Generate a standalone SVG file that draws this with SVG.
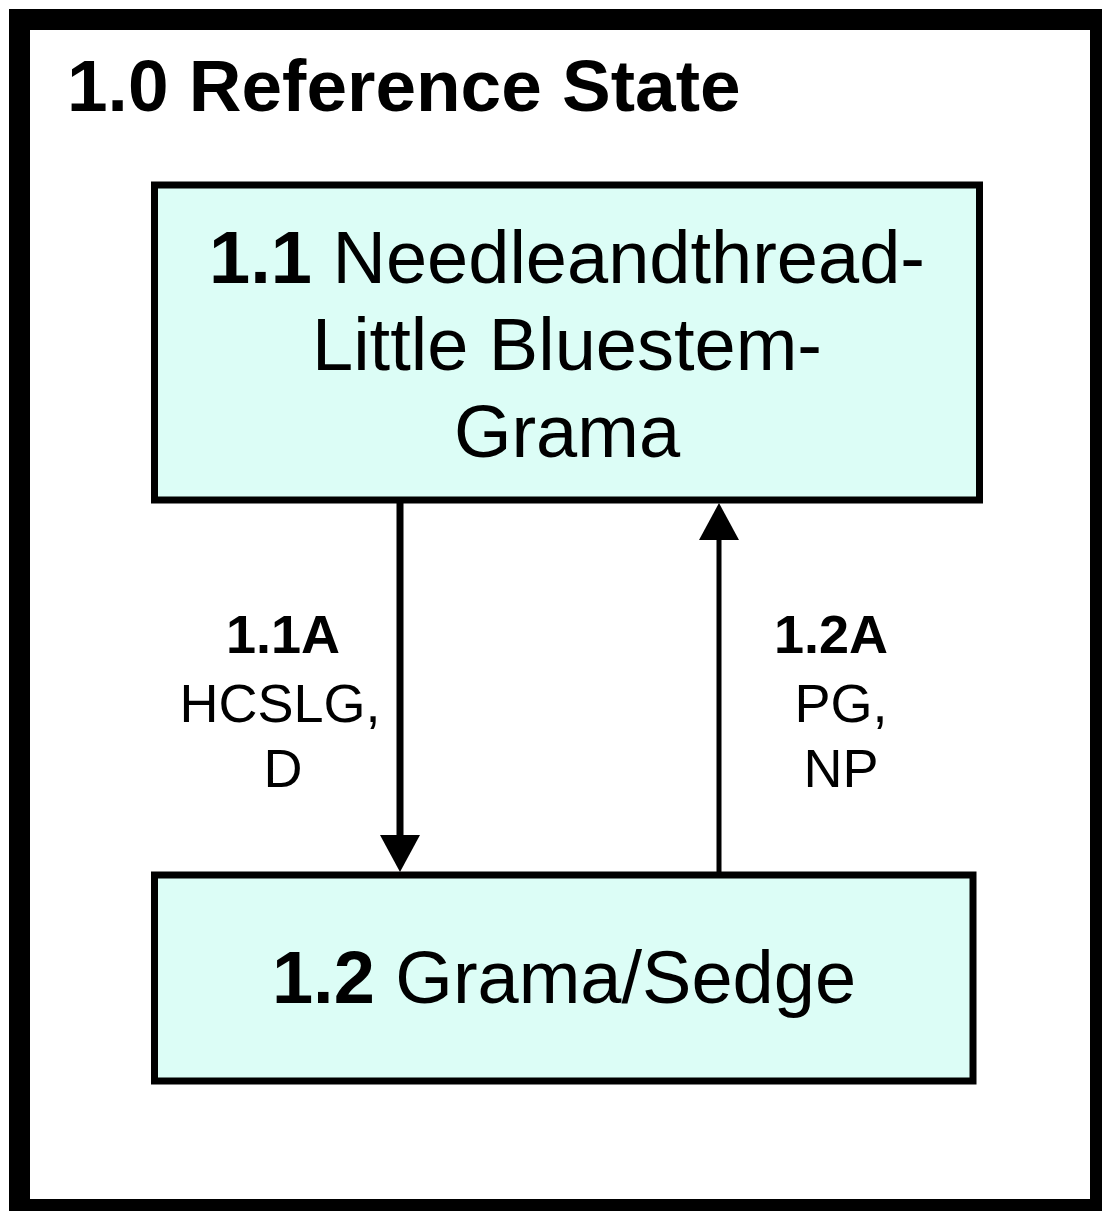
<svg xmlns="http://www.w3.org/2000/svg" width="1102" height="1211" viewBox="0 0 1102 1211">
<style>
  .frame { fill: #ffffff; stroke: #000000; stroke-width: 21; }
  .box { fill: #dcfdf6; stroke: #000000; stroke-width: 7; }
  text { font-family: "Liberation Sans", Arial, sans-serif; fill: #000000; }
  .title { font-size: 73px; font-weight: bold; }
  .node { font-size: 74px; text-anchor: middle; }
  .lbl { font-size: 54px; text-anchor: middle; }
  .b { font-weight: bold; }
  .conn { stroke: #000000; fill: none; }
</style>
<defs>
  <marker id="arrow" markerUnits="userSpaceOnUse" markerWidth="40" markerHeight="40" viewBox="0 0 37 40" refX="0" refY="20" orient="auto">
    <path d="M0,0 L37,20 L0,40 z" fill="#000000"/>
  </marker>
</defs>
<rect x="0" y="0" width="1102" height="1211" fill="#ffffff"/>
<rect class="frame" x="19.5" y="19.5" width="1081" height="1190"/>
<text class="title" x="67" y="111">1.0 Reference State</text>
<g id="node-1-1">
  <rect class="box" x="154.5" y="185" width="825" height="315"/>
  <text class="node" x="567" y="283"><tspan class="b">1.1</tspan> Needleandthread-</text>
  <text class="node" x="567" y="370">Little Bluestem-</text>
  <text class="node" x="567" y="457">Grama</text>
</g>
<g id="node-1-2">
  <rect class="box" x="154.5" y="875" width="818.5" height="206"/>
  <text class="node" x="564" y="1003"><tspan class="b">1.2</tspan> Grama/Sedge</text>
</g>
<g id="connectors">
  <line class="conn" x1="400" y1="503" x2="400" y2="835" stroke-width="7" marker-end="url(#arrow)"/>
  <line class="conn" x1="719" y1="872" x2="719" y2="540" stroke-width="5" marker-end="url(#arrow)"/>
  <g id="label-1-1A">
    <text class="lbl b" x="283" y="653">1.1A</text>
    <text class="lbl" x="280" y="722">HCSLG,</text>
    <text class="lbl" x="283" y="787">D</text>
  </g>
  <g id="label-1-2A">
    <text class="lbl b" x="831" y="653">1.2A</text>
    <text class="lbl" x="841" y="722">PG,</text>
    <text class="lbl" x="841" y="787">NP</text>
  </g>
</g>
</svg>
